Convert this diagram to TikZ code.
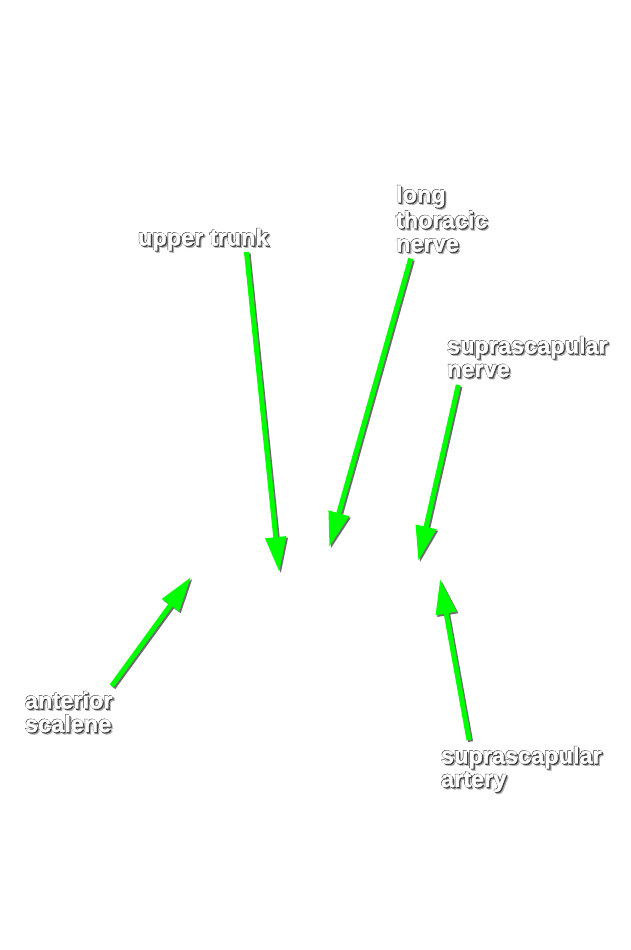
\documentclass[tikz,border=0pt]{standalone}
\usepackage{fontspec}
\setmainfont{Liberation Sans}[BoldFont={Liberation Sans Bold},BoldFeatures={FakeBold=1.6}]
\usetikzlibrary{arrows.meta}
\definecolor{arrowgreen}{RGB}{0,255,0}
\definecolor{edgegray}{RGB}{60,60,60}
\definecolor{shadowgray}{RGB}{110,110,110}
\definecolor{softshadow}{RGB}{175,175,175}
\newcommand\lblline[1]{%
\makebox[0pt][l]{\kern2.2pt\raisebox{-2.2pt}{\textcolor{softshadow}{#1}}}%
\makebox[0pt][l]{\kern1.1pt\raisebox{-1.1pt}{\textcolor{edgegray}{#1}}}%
\makebox[0pt][l]{\kern-0.45pt\raisebox{0.45pt}{\textcolor{edgegray}{#1}}}%
\textcolor{white}{#1}}
\tikzset{
  lbl/.style={anchor=north west, inner sep=0pt, outer sep=0pt, align=left,
    font=\bfseries\fontsize{23.5}{23.5}\selectfont},
  arrowmain/.style={line width=5pt, arrowgreen, line cap=butt,
    -{Triangle[length=35pt,width=20pt]}},
  arrowshadow/.style={line width=5pt, shadowgray, line cap=butt,
    -{Triangle[length=35pt,width=20pt]},
    transform canvas={shift={(1.6pt,-1.6pt)}}},
}
\begin{document}
\begin{tikzpicture}[x=1pt,y=-1pt]
\useasboundingbox[fill=white] (0,0) rectangle (631,950);
% labels
\node[lbl] (ut)  at (138,228)   {\lblline{upper trunk}};
\node[lbl] (ltn) at (396,185)   {\lblline{long}\\\lblline{thoracic}\\\lblline{nerve}};
\node[lbl] (ssn) at (447,336)   {\lblline{suprascapular}\\\lblline{nerve}};
\node[lbl] (ssa) at (441,746)   {\lblline{suprascapular}\\\lblline{artery}};
\node[lbl] (as)  at (25,691)    {\lblline{anterior}\\\lblline{scalene}};
% arrow ends
\coordinate (ut-tail)  at (246.5,252);
\coordinate (ut-tip)   at (279.3,572);
\coordinate (ltn-tail) at (410.7,258.5);
\coordinate (ltn-tip)  at (329.3,547);
\coordinate (ssn-tail) at (458.3,385);
\coordinate (ssn-tip)  at (418.3,561);
\coordinate (ssa-tail) at (469,740);
\coordinate (ssa-tip)  at (440,579);
\coordinate (as-tail)  at (111.7,686);
\coordinate (as-tip)   at (191,577);
% shadows
\foreach \a in {ut,ltn,ssn,ssa,as}{
  \draw[arrowshadow] (\a-tail) -- (\a-tip);
}
% arrows
\foreach \a in {ut,ltn,ssn,ssa,as}{
  \draw[arrowmain] (\a-tail) -- (\a-tip);
}
\end{tikzpicture}
\end{document}
